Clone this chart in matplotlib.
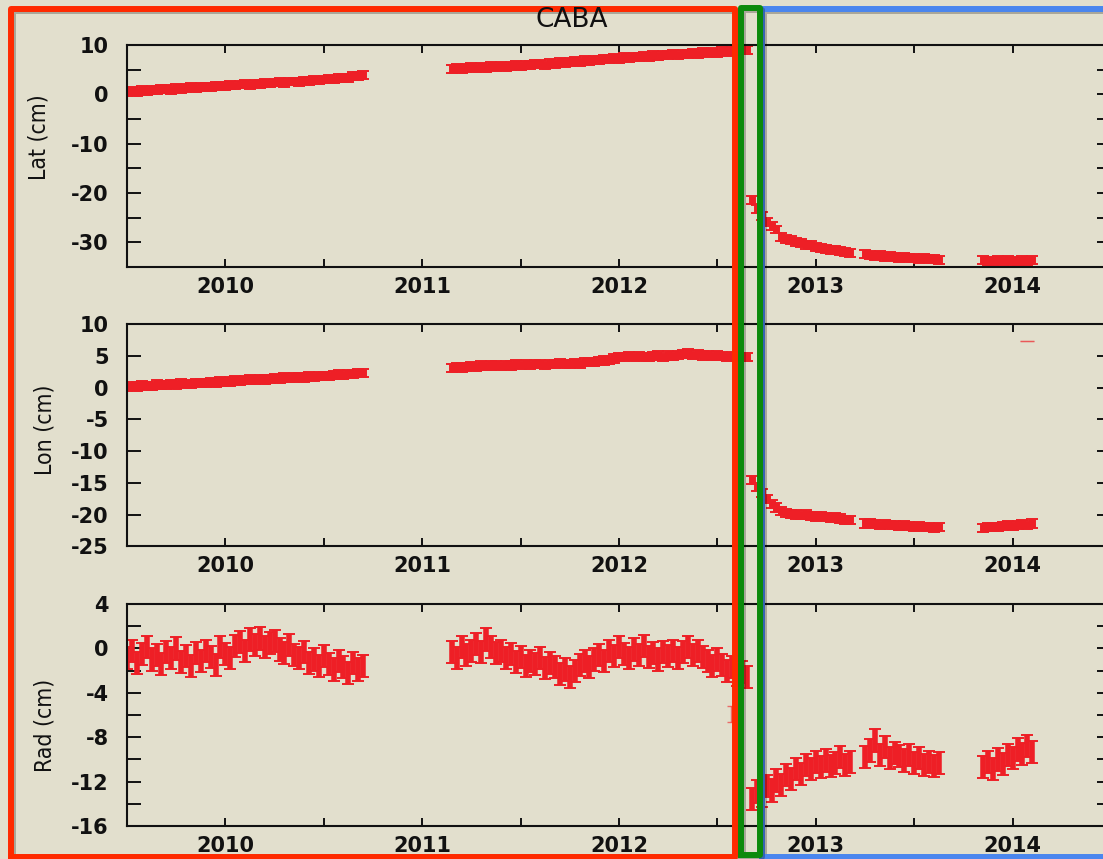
import numpy as np
import matplotlib
matplotlib.use("Agg")
import matplotlib.pyplot as plt
from matplotlib.lines import Line2D
from matplotlib.ticker import MultipleLocator, StrMethodFormatter
import matplotlib.transforms as mtransforms
import matplotlib.patheffects as pe

plt.rcParams['axes.unicode_minus'] = False
plt.rcParams['font.family'] = ['DejaVu Sans']

# ---------------- data (cm) ----------------
# segment time grids (decimal years): start, count (step below)
SEGMENTS = [(2009.50, 49), (2011.15, 61), (2012.675, 21), (2013.25, 16), (2013.85, 11)]
STEP = 0.025

lat_seg1 = [0.4, 0.7, 0.5, 0.8, 0.6, 0.9, 0.8, 1.0, 1.1, 0.9, 1.2, 1.1, 1.3, 1.4, 1.2, 1.5,
            1.5, 1.4, 1.7, 1.7, 1.6, 1.9, 1.8, 2.0, 2.1, 1.9, 2.2, 2.1, 2.3, 2.2, 2.4, 2.5,
            2.3, 2.6, 2.6, 2.5, 2.8, 2.7, 2.9, 2.8, 3.0, 3.1, 3.0, 3.3, 3.4, 3.4, 3.7, 3.8, 4.0]
lat_seg2 = [5.1, 5.4, 5.2, 5.3, 5.5, 5.3, 5.6, 5.4, 5.7, 5.5, 5.8, 5.6, 5.8, 5.9, 5.7, 6.0,
            5.9, 6.1, 6.2, 6.0, 6.4, 6.2, 6.5, 6.4, 6.6, 6.7, 6.5, 6.9, 6.8, 7.0, 6.9, 7.2,
            7.1, 7.3, 7.2, 7.5, 7.3, 7.6, 7.5, 7.7, 7.6, 7.9, 7.7, 8.0, 7.9, 8.1, 7.9, 8.2,
            8.1, 8.3, 8.2, 8.5, 8.3, 8.6, 8.4, 8.7, 8.6, 8.8, 8.7, 9.0, 8.9]
lat_seg3 = [-21.5, -23.2, -24.6, -25.8, -26.6, -27.4, -28.9, -29.4, -29.6, -30.0, -30.1,
            -30.5, -30.6, -31.0, -31.1, -31.3, -31.5, -31.6, -31.8, -31.9, -32.2]
lat_seg4 = [-32.4, -32.6, -32.7, -32.6, -32.9, -32.8, -33.0, -33.1, -32.9, -33.2, -33.1,
            -33.3, -33.2, -33.4, -33.3, -33.5]
lat_seg5 = [-33.6, -33.8, -33.7, -33.5, -33.8, -33.6, -33.7, -33.9, -33.6, -33.7, -33.6]

lon_seg1 = [0.1, 0.3, 0.2, 0.4, 0.3, 0.3, 0.5, 0.4, 0.4, 0.6, 0.5, 0.7, 0.6, 0.6, 0.8, 0.7,
            0.8, 0.9, 0.8, 1.0, 0.9, 1.0, 1.2, 1.1, 1.2, 1.3, 1.2, 1.4, 1.3, 1.4, 1.5, 1.4,
            1.6, 1.5, 1.6, 1.7, 1.6, 1.8, 1.7, 1.8, 1.9, 1.9, 2.0, 2.1, 2.0, 2.2, 2.2, 2.3, 2.3]
lon_seg2 = [3.1, 3.3, 3.2, 3.3, 3.4, 3.3, 3.5, 3.4, 3.5, 3.6, 3.4, 3.6, 3.5, 3.7, 3.6, 3.7,
            3.6, 3.8, 3.7, 3.6, 3.8, 3.7, 3.9, 3.8, 3.7, 3.9, 3.8, 4.0, 4.0, 4.1, 4.2, 4.3,
            4.4, 4.6, 4.8, 4.9, 5.0, 4.8, 5.0, 4.9, 4.8, 5.0, 5.1, 4.9, 5.1, 5.0, 5.2, 5.3,
            5.4, 5.2, 5.3, 5.1, 5.2, 5.0, 5.1, 5.0, 4.9, 5.0, 4.8, 4.9, 4.8]
lon_seg3 = [-14.5, -15.6, -16.6, -17.5, -18.3, -18.9, -19.4, -19.7, -19.9, -20.0, -20.1,
            -20.0, -20.2, -20.3, -20.2, -20.4, -20.5, -20.4, -20.6, -20.8, -20.9]
lon_seg4 = [-21.4, -21.3, -21.5, -21.6, -21.5, -21.7, -21.6, -21.8, -21.7, -21.8, -21.9,
            -21.8, -22.0, -21.9, -22.1, -22.0]
lon_seg5 = [-22.1, -22.0, -21.9, -21.9, -21.8, -21.7, -21.8, -21.6, -21.5, -21.6, -21.4]
lon_outlier_t, lon_outlier_v = [2014.075], [7.4]

rad_seg1 = [-0.9, -0.2, -1.3, -0.5, 0.1, -1.0, -0.6, -1.4, -0.3, -0.9, 0.0, -1.2, -0.7, -1.6,
            -0.4, -1.1, -0.2, -0.8, -1.5, 0.1, -0.5, -0.9, 0.2, 0.6, -0.2, 0.8, 0.3, 0.9, 0.1,
            0.5, 0.7, -0.1, -0.4, 0.3, -0.6, -0.9, -0.3, -1.3, -1.0, -1.6, -0.7, -1.4, -1.9,
            -1.1, -1.7, -2.2, -1.3, -1.9, -1.6]
rad_seg2 = [-0.3, -0.9, 0.1, -0.6, -0.2, 0.4, -0.3, 0.8, 0.1, -0.4, -0.2, -0.9, -0.5, -1.2,
            -0.8, -1.6, -1.1, -1.4, -0.9, -1.8, -1.3, -1.7, -2.3, -1.9, -2.6, -2.0, -1.5, -1.1,
            -1.7, -1.0, -0.6, -1.1, -0.2, -0.7, 0.1, -0.5, -0.9, -0.1, -0.6, 0.2, -0.8, -0.4,
            -1.0, -0.3, -0.7, -0.2, -0.9, -0.3, 0.1, -0.6, -0.2, -0.8, -1.1, -1.6, -1.0, -1.5,
            -2.0, -1.7, -2.4, -2.1, -2.6]
rad_seg3 = [-13.6, -12.9, -13.3, -12.4, -12.8, -11.9, -12.3, -11.4, -11.8, -10.9, -11.3,
            -10.5, -10.9, -10.2, -10.7, -10.1, -10.6, -10.3, -9.8, -10.5, -10.2]
rad_seg4 = [-9.8, -9.2, -8.3, -9.6, -8.9, -9.9, -9.4, -9.7, -10.1, -9.6, -10.3, -9.9, -10.5,
            -10.2, -10.6, -10.3]
rad_seg5 = [-10.7, -10.2, -10.9, -10.0, -10.4, -9.6, -9.9, -9.1, -9.5, -8.8, -9.3]
rad_outlier_t, rad_outlier_v = [2012.57], [-5.9]

lat_err, lon_err, rad_err = 0.8, 0.65, 1.0

panels = [
    ("Lat (cm)", [lat_seg1, lat_seg2, lat_seg3, lat_seg4, lat_seg5], lat_err, (-35, 10), 10, 5, 5.0),
    ("Lon (cm)", [lon_seg1, lon_seg2, lon_seg3, lon_seg4, lon_seg5], lon_err, (-25, 10), 5, 5, 5.0),
    ("Rad (cm)", [rad_seg1, rad_seg2, rad_seg3, rad_seg4, rad_seg5], rad_err, (-16, 4), 4, 2, 4.0),
]
year_ticks = [2010, 2011, 2012, 2013, 2014]

# ---------------- style ----------------
BG = '#e2dfcd'
RED = '#ee1f26'
W, H = 1103, 859
fig = plt.figure(figsize=(W / 100, H / 100), dpi=100, facecolor=BG)

left = 127 / W
width = (1111 - 127) / W
tops = [45, 324.3, 604]
ph = 222
label_xy = [(50, 137.5), (57, 430), (57, 725)]

times = [np.round(s + STEP * np.arange(n), 4) for s, n in SEGMENTS]

axes = []
for i, (lab, segs, err, ylim, major, minor, elw) in enumerate(panels):
    top = tops[i]
    ax = fig.add_axes([left, 1 - (top + ph) / H, width, ph / H])
    ax.set_facecolor(BG)
    t = np.concatenate(times)
    v = np.concatenate([np.asarray(s) for s in segs])
    ax.errorbar(t, v, yerr=err, fmt='none', ecolor=RED, elinewidth=elw,
                capsize=4.5, capthick=1.4)
    if i == 1:
        ax.errorbar(lon_outlier_t, lon_outlier_v, yerr=0.02, fmt='none', ecolor=RED,
                    elinewidth=1.0, capsize=5, capthick=1.0, alpha=0.45)
    if i == 2:
        ax.errorbar(rad_outlier_t, rad_outlier_v, yerr=0.7, fmt='none', ecolor=RED,
                    elinewidth=1.0, capsize=3, capthick=1.0, alpha=0.6)
    ax.set_xlim(2009.5, 2014.5)
    ax.set_ylim(*ylim)
    ax.set_xticks(year_ticks)
    ax.xaxis.set_minor_locator(MultipleLocator(0.5))
    ax.yaxis.set_major_locator(MultipleLocator(major))
    ax.yaxis.set_minor_locator(MultipleLocator(minor))
    ax.xaxis.set_major_formatter(StrMethodFormatter('{x:.0f}'))
    ax.yaxis.set_major_formatter(StrMethodFormatter('{x:.0f}'))
    ax.tick_params(axis='both', which='both', direction='in', top=True, right=True,
                   width=1.4, colors='#111111', labelsize=15)
    ax.tick_params(axis='x', which='both', length=5.8, pad=7)
    ax.tick_params(axis='y', which='both', length=10, pad=13)
    for tl in ax.get_xticklabels() + ax.get_yticklabels():
        tl.set_fontweight('bold')
    for sp in ax.spines.values():
        sp.set_linewidth(1.5)
        sp.set_color('#111111')
    ax.set_ylabel(lab, family='DejaVu Sans', fontstretch='condensed', fontsize=16.5,
                  color='#111111')
    lx, ly = label_xy[i]
    ax.yaxis.set_label_coords((lx - 127) / 984, (top + ph - ly) / ph)
    axes.append(ax)

fig.text(572 / W, 1 - 20 / H, "CABA", ha='center', va='center', fontsize=19, color='#111111')

# ---------------- highlight boxes ----------------
trans = mtransforms.blended_transform_factory(axes[0].transData, fig.transFigure)
boxes = [  # (x0, x1 in years, top px, bottom px, color)
    (2012.725, 2014.70, 9, 857, '#4a86ee'),
    (2008.91, 2012.59, 8.5, 857, '#ff2a00'),
    (2012.621, 2012.715, 7.5, 855, '#0c8a0c'),
]
for x0, x1, ytp, ybt, col in boxes:
    y0, y1 = 1 - ybt / H, 1 - ytp / H
    ln = Line2D([x0, x1, x1, x0, x0], [y0, y0, y1, y1, y0], transform=trans, color=col,
                lw=4.3, solid_joinstyle='round', clip_on=False,
                path_effects=[pe.SimpleLineShadow(offset=(1.5, -1.5), alpha=0.25),
                              pe.Normal()])
    fig.add_artist(ln)

fig.savefig("out.png", dpi=100, facecolor=BG)
